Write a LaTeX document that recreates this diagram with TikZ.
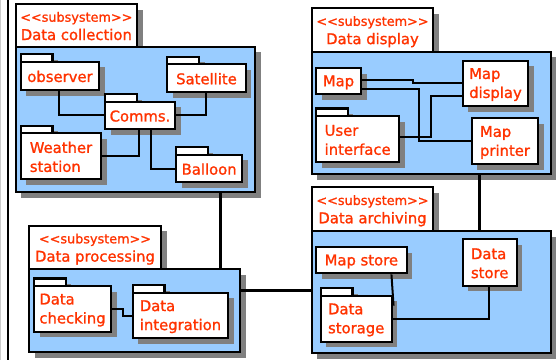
\documentclass[tikz,border=0pt]{standalone}
\usepackage{fontspec}
\newfontfamily\lbl{DejaVu Sans}[FakeBold=1.2]
\usetikzlibrary{shadows,calc}
\definecolor{pkgblue}{RGB}{153,204,255}
\definecolor{lblred}{RGB}{255,51,0}
\definecolor{shgray}{RGB}{128,128,128}
\newcommand\sst{\rule[-1pt]{0pt}{14.2pt}}
\newcommand\tst{\rule[-2pt]{0pt}{15pt}}
\newcommand\sub{{\fontsize{12.8}{18.3}\selectfont\tst <\kern0pt<subsystem>\kern0pt>}}
\tikzset{
  shd/.style={drop shadow={shadow xshift=5.5pt, shadow yshift=-5.5pt, fill=shgray, opacity=1}},
  boxbase/.style={draw=black, line width=2.1pt, rectangle, inner sep=0pt, shd},
  elem/.style={boxbase, fill=white, text=lblred, align=left, font=\lbl\fontsize{14.8}{19}\selectfont},
  ptab/.style={boxbase, fill=white},
  stitle/.style={boxbase, fill=white, text=lblred, align=center, font=\lbl\fontsize{14.8}{18.3}\selectfont},
  sbody/.style={boxbase, fill=pkgblue},
  conn/.style={draw=black, line width=2pt},
  link/.style={draw=black, line width=2.7pt},
}
% style, name, x1, y1, x2, y2, text
\newcommand\rnode[7]{%
  \node[#1, minimum width={((#5)-(#3))*1pt}, minimum height={((#6)-(#4))*1pt}]
    (#2) at ({((#3)+(#5))/2},{((#4)+(#6))/2}) {#7};}
% package element: name, x1, y1, x2, y2, text
\newcommand\pkgel[6]{%
  \rnode{ptab}{#1-tab}{#2}{(#3)-7.5}{(#2)+31.8}{#3}{}%
  \rnode{elem}{#1}{#2}{#3}{#4}{#5}{#6}}
\begin{document}
\begin{tikzpicture}[x=1pt,y=-1pt]
\useasboundingbox (0,0) rectangle (558,360);
\fill[white] (0,0) rectangle (558,360);
\draw[line width=1pt, gray!40] (0.5,0) -- (0.5,360);
\draw[line width=2.2pt] (8,0) -- (8,360);

% Data collection
\rnode{stitle}{dc-title}{15.7}{4}{137}{46.7}{\sub\\\tst Data collection}
\rnode{sbody}{dc}{15.7}{46.7}{255}{192}{}
\pkgel{obs}{20.7}{61.7}{99.3}{90}{\sst observer}
\pkgel{sat}{167.3}{64.3}{245.7}{92}{\sst Satellite}
\pkgel{comms}{105}{101.7}{175}{129}{\sst Comms.}
\pkgel{weather}{20.7}{133.3}{101.3}{179.3}{\sst Weather\\\sst station}
\pkgel{balloon}{176}{154.7}{242.3}{182.3}{\sst Balloon}

% Data display
\rnode{stitle}{dd-title}{311.7}{8.3}{433.3}{51.7}{\sub\\\tst Data display}
\rnode{sbody}{dd}{311.7}{51.7}{550.7}{174}{}
\rnode{elem}{map}{316}{68.3}{361}{94}{\sst Map}
\pkgel{ui}{316}{116}{399.3}{162.3}{\sst User\\\sst interface}
\rnode{elem}{mapdisp}{462.7}{60.7}{528.3}{106}{\sst Map\\\sst display}
\rnode{elem}{mapprint}{471.7}{118.3}{538.3}{164.3}{\sst Map\\\sst printer}

% Data processing
\rnode{stitle}{dp-title}{29}{225.7}{161}{269.3}{\sub\\\tst Data processing}
\rnode{sbody}{dp}{29}{269.3}{240}{352.3}{}
\pkgel{check}{34}{286}{111}{331.7}{\sst Data\\\sst checking}
\pkgel{integ}{132.7}{292.7}{228.3}{338.3}{\sst Data\\\sst integration}

% Data archiving
\rnode{stitle}{da-title}{311.7}{187.3}{433.3}{231}{\sub\\\tst Data archiving}
\rnode{sbody}{da}{311.7}{231}{550.7}{353.3}{}
\rnode{elem}{mapstore}{316}{247.3}{406.7}{273.3}{\sst Map store}
\pkgel{storage}{320.7}{295.7}{391.7}{341.7}{\sst Data\\\sst storage}
\rnode{elem}{dstore}{462.7}{239.3}{516.7}{285.7}{\sst Data\\\sst store}

% connectors inside Data collection
\draw[conn] ($(obs.south west)+(39.3,0)$) |- (comms.west);
\draw[conn] ($(sat.south west)+(39.4,0)$) |- (comms.east);
\draw[conn] (weather.east) -| ($(comms.south west)+(35,0)$);
\draw[conn] ($(comms.south west)+(46.7,0)$) |- (balloon.west);

% connectors inside Data display
\draw[conn] ($(map.north east)+(0,12.4)$) -- ++(51.3,0) |- (mapdisp.west);
\draw[conn] ($(map.north east)+(0,21.7)$) -- ++(56.7,0) |- (mapprint.west);
\draw[conn] ($(ui.north east)+(0,22.3)$) -- ++(30.7,0) |- ($(mapdisp.south west)+(0,-11)$);

% connectors inside Data processing
\draw[conn] (check.east) -- ++(10.7,0) |- (integ.west);

% connectors inside Data archiving
\draw[conn] ($(mapstore.south west)+(76.5,0)$) -- ($(storage.north east)+(0.8,11)$);
\draw[conn] ($(dstore.south west)+(27.3,0)$) |- (storage.east);

% links between subsystems
\draw[link] ($(dc.south west)+(206,0)$) coordinate (l1) -- (l1 |- dp.north);
\draw[link] ($(dp.north east)+(0,22.4)$) coordinate (l2) -- (l2 -| da.west);
\draw[link] ($(dd.south west)+(169,0)$) coordinate (l3) -- (l3 |- da.north);
\end{tikzpicture}
\end{document}
